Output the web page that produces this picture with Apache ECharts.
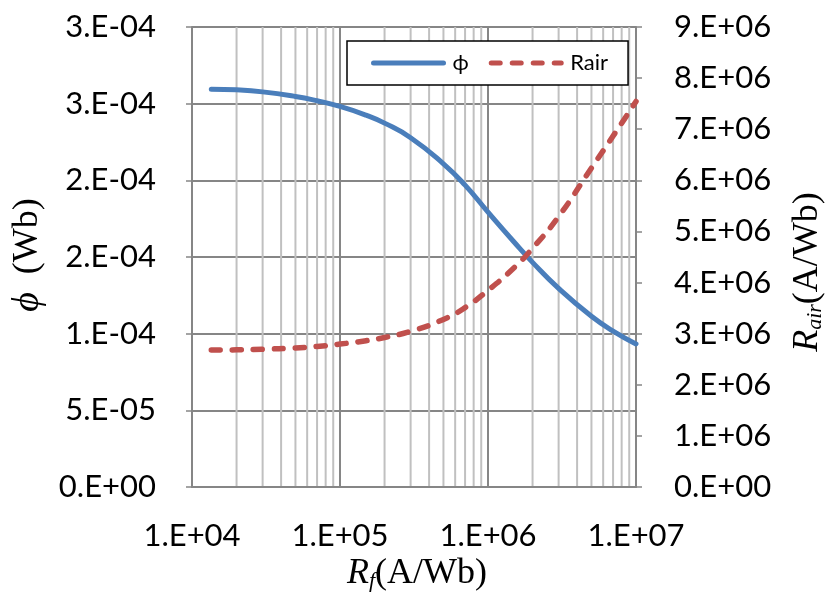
<!DOCTYPE html>
<html>
<head>
<meta charset="utf-8">
<script src="https://cdn.jsdelivr.net/npm/echarts@6/dist/echarts.min.js"></script>
<style>
  html, body { margin: 0; padding: 0; background: #fff; }
  #chart { width: 829px; height: 592px; }
</style>
</head>
<body>
<div id="chart"></div>
<script>
// Reluctance of the ferromagnetic path Rf (A/Wb)
const rfValues = [1.35e4, 2e4, 3e4, 5e4, 7e4, 1e5, 1.5e5, 2e5, 3e5, 5e5, 7e5, 1e6, 1.5e6, 2e6, 3e6, 5e6, 7e6, 1e7];
// Magnetic flux phi (Wb)
const phiValues = [2.594e-4, 2.590e-4, 2.577e-4, 2.547e-4, 2.519e-4, 2.482e-4, 2.425e-4, 2.373e-4, 2.278e-4, 2.108e-4, 1.969e-4, 1.793e-4, 1.598e-4, 1.465e-4, 1.295e-4, 1.113e-4, 1.017e-4, 9.33e-5];
// Air-gap reluctance Rair (A/Wb)
const rairValues = [2.680e6, 2.684e6, 2.696e6, 2.721e6, 2.751e6, 2.796e6, 2.862e6, 2.925e6, 3.046e6, 3.279e6, 3.510e6, 3.847e6, 4.289e6, 4.670e6, 5.290e6, 6.241e6, 6.867e6, 7.542e6];

// Tick labels
const xTickLabels = ['1.E+04', '1.E+05', '1.E+06', '1.E+07'];
const leftTickLabels = ['0.E+00', '5.E-05', '1.E-04', '2.E-04', '2.E-04', '3.E-04', '3.E-04'];
const rightTickLabels = ['0.E+00', '1.E+06', '2.E+06', '3.E+06', '4.E+06', '5.E+06', '6.E+06', '7.E+06', '8.E+06', '9.E+06'];

// Minor log gridlines: decade starts and multipliers
const decadeStarts = [1e4, 1e5, 1e6];
const minorMultipliers = [2, 3, 4, 5, 6, 7, 8, 9];

const seriesNames = ['\u03D5', 'Rair'];

const labelFont = 'Lato, "Open Sans", sans-serif';
const serifFont = '"Liberation Serif", "DejaVu Serif", serif';
const axisGray = '#868686';
const blue = '#4a7ebb';
const red = '#c0504d';

const minorValues = [];
decadeStarts.forEach(d => minorMultipliers.forEach(m => minorValues.push(d * m)));

const chart = echarts.init(document.getElementById('chart'), null, { renderer: 'canvas' });

const option = {
  backgroundColor: '#ffffff',
  animation: false,
  grid: { left: 192, right: 193, top: 27, bottom: 105, containLabel: false },
  legend: {
    left: 347, top: 41,
    padding: [11, 20, 11, 24],
    itemWidth: 70, itemHeight: 14, itemGap: 20,
    borderColor: '#000', borderWidth: 1.5,
    backgroundColor: '#fff',
    itemStyle: { opacity: 0, borderWidth: 0 },
    lineStyle: { width: 5, cap: 'round' },
    textStyle: { fontFamily: labelFont, fontSize: 22, color: '#000', padding: [0, 0, 0, 4] },
    data: seriesNames
  },
  xAxis: {
    type: 'log', logBase: 10, min: 1e4, max: 1e7,
    axisLine: { show: true, lineStyle: { color: axisGray, width: 2 } },
    axisTick: { show: false },
    axisLabel: {
      margin: 33, fontFamily: labelFont, fontSize: 31, color: '#000',
      formatter: v => xTickLabels[Math.round(Math.log10(v)) - 4]
    },
    splitLine: { show: true, lineStyle: { color: axisGray, width: 2 } }
  },
  yAxis: [
    {
      type: 'value', min: 0, max: 3e-4, interval: 5e-5, position: 'left',
      axisLine: { show: true, lineStyle: { color: axisGray, width: 2 } },
      axisTick: { show: true, inside: false, length: 6, lineStyle: { color: axisGray, width: 1.5 } },
      axisLabel: {
        margin: 36, fontFamily: labelFont, fontSize: 31, color: '#000',
        formatter: v => leftTickLabels[Math.round(v / 5e-5)]
      },
      splitLine: { show: true, lineStyle: { color: axisGray, width: 2 } }
    },
    {
      type: 'value', min: 0, max: 9e6, interval: 1e6, position: 'right',
      axisLine: { show: true, lineStyle: { color: axisGray, width: 2 } },
      axisTick: { show: true, inside: false, length: 6, lineStyle: { color: axisGray, width: 1.5 } },
      axisLabel: {
        margin: 38, fontFamily: labelFont, fontSize: 31, color: '#000',
        formatter: v => rightTickLabels[Math.round(v / 1e6)]
      },
      splitLine: { show: false }
    }
  ],
  graphic: [
    {
      type: 'text',
      style: {
        x: 417, y: 574, align: 'center', verticalAlign: 'middle',
        text: '{r|R}{s|f}{n|(A/Wb)}',
        rich: {
          r: { fontFamily: serifFont, fontStyle: 'italic', fontSize: 36, fill: '#000' },
          s: { fontFamily: serifFont, fontStyle: 'italic', fontSize: 22, fill: '#000', verticalAlign: 'bottom', padding: [6, 0, 0, 0] },
          n: { fontFamily: serifFont, fontSize: 36, fill: '#000' }
        }
      }
    },
    {
      type: 'text', x: 28, y: 255, rotation: Math.PI / 2,
      style: {
        x: 0, y: 0, align: 'center', verticalAlign: 'middle',
        text: '{p|\u03D5}{n|\u2002(Wb)}',
        rich: {
          p: { fontFamily: serifFont, fontStyle: 'italic', fontSize: 38, fill: '#000' },
          n: { fontFamily: serifFont, fontSize: 36, fill: '#000' }
        }
      }
    },
    {
      type: 'text', x: 808, y: 272, rotation: Math.PI / 2,
      style: {
        x: 0, y: 0, align: 'center', verticalAlign: 'middle',
        text: '{r|R}{s|air}{n|(A/Wb)}',
        rich: {
          r: { fontFamily: serifFont, fontStyle: 'italic', fontSize: 36, fill: '#000' },
          s: { fontFamily: serifFont, fontStyle: 'italic', fontSize: 22, fill: '#000', verticalAlign: 'bottom', padding: [6, 0, 0, 0] },
          n: { fontFamily: serifFont, fontSize: 36, fill: '#000' }
        }
      }
    }
  ],
  series: [
    {
      // light vertical gridlines between decades
      name: 'minor-grid', type: 'custom', silent: true, z: 0,
      xAxisIndex: 0, yAxisIndex: 0,
      data: minorValues.map(v => [v]),
      encode: { x: 0 },
      renderItem: (params, api) => {
        const top = api.coord([api.value(0), 3e-4]);
        const bottom = api.coord([api.value(0), 0]);
        return {
          type: 'line',
          shape: { x1: top[0], y1: top[1], x2: bottom[0], y2: bottom[1] },
          style: { stroke: '#c0c0c0', lineWidth: 2 }
        };
      }
    },
    {
      name: seriesNames[0], type: 'line', yAxisIndex: 0, z: 3,
      data: rfValues.map((x, i) => [x, phiValues[i]]),
      smooth: 0.5, symbol: 'none', showSymbol: false,
      lineStyle: { color: blue, width: 5, cap: 'round', join: 'round' },
      itemStyle: { color: blue }
    },
    {
      name: seriesNames[1], type: 'line', yAxisIndex: 1, z: 3,
      data: rfValues.map((x, i) => [x, rairValues[i]]),
      smooth: 0.5, symbol: 'none', showSymbol: false,
      lineStyle: { color: red, width: 5.5, type: [9, 12], cap: 'round', join: 'round' },
      itemStyle: { color: red }
    }
  ]
};

chart.setOption(option);
</script>
</body>
</html>
